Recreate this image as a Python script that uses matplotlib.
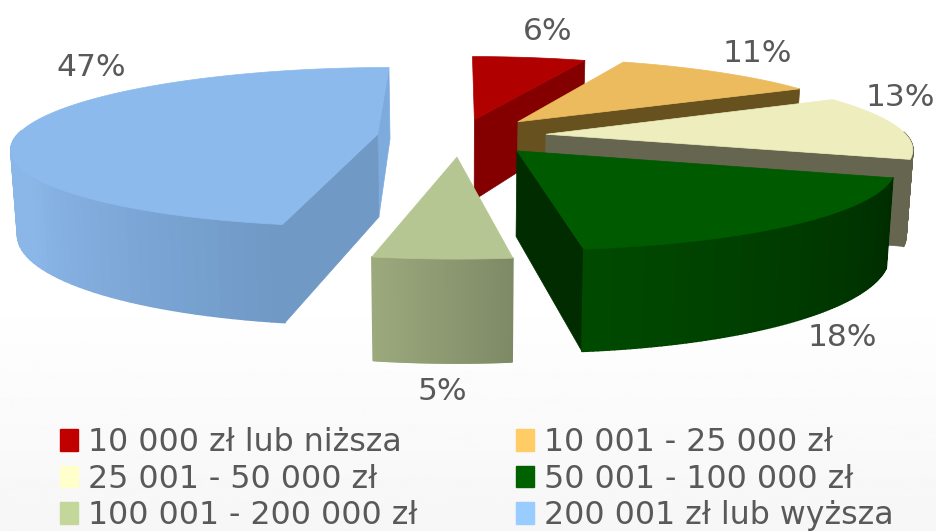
import numpy as np
import matplotlib
matplotlib.use('Agg')
import matplotlib.pyplot as plt
from matplotlib.collections import PolyCollection
from matplotlib.patches import Patch, Polygon

labels = ['10 000 zł lub niższa', '10 001 - 25 000 zł', '25 001 - 50 000 zł',
          '50 001 - 100 000 zł', '100 001 - 200 000 zł', '200 001 zł lub wyższa']
values = [6, 11, 13, 18, 5, 47]

# pull-out of each slice, in pie radii
explode = [0.22, 0.25, 0.24, 0.24, 0.26, 0.23]
legend_colors = ['#C00000', '#FFCC66', '#FFFFCC', '#006100', '#C4D79B', '#99CCFF']
top_colors = ['#B00000', '#EBBB5E', '#EDEDBD', '#005A00', '#B5C692', '#8CBAEC']
start_face = ['#840000', '#67511F', '#66654F', '#002C00', '#7E8A66', '#7199C5']
end_face = ['#840000', '#67511F', '#66654F', '#002C00', '#7E8A66', '#7EABDD']
side_from = ['#840000', '#67511F', '#66654F', '#002C00', '#7E8A66', '#7099C6']
side_to = ['#840000', '#67511F', '#66654F', '#004A00', '#9CA97D', '#8AB6E8']
label_pos = [(548, 31), (757, 53), (900, 97), (842, 338), (442, 392), (91, 67)]
draw_order = [0, 1, 2, 5, 3, 4]
legend_order = [0, 2, 4, 1, 3, 5]

# camera, everything in pixels
cx, cy = 460, 136
ax_a, ax_b = 361, 78
persp = 0.16
depth = 83
shrink = 0.985


def project(u, v):
    w = 1 + persp * v
    return cx + ax_a * u / w, cy - ax_b * v / w


def project_low(u, v):
    x, y = project(u, v)
    return cx + (x - cx) * shrink, y + depth / (1 + persp * v)


def mix(c1, c2, t):
    a = np.array(matplotlib.colors.to_rgb(c1))
    b = np.array(matplotlib.colors.to_rgb(c2))
    return a + (b - a) * t


fig = plt.figure(figsize=(9.37, 5.31), dpi=100)
ax = fig.add_axes([0, 0, 1, 1])
ax.set_xlim(0, 937)
ax.set_ylim(531, 0)
ax.axis('off')

bg = np.interp(np.linspace(0, 1, 256), [0, 0.55, 1], [1, 1, 0.965])
ax.imshow(bg[:, None], cmap='gray', vmin=0, vmax=1, extent=[0, 937, 531, 0], aspect='auto', zorder=0)

edges = np.cumsum([0] + values) / sum(values) * 2 * np.pi
z = 1
for i in draw_order:
    t0, t1 = edges[i], edges[i + 1]
    mid = (t0 + t1) / 2
    ou, ov = explode[i] * np.sin(mid), explode[i] * np.cos(mid)
    th = np.linspace(t0, t1, 90)
    u, v = ou + np.sin(th), ov + np.cos(th)

    # cut faces, only the ones turned to the viewer
    for t, col, show in [(t1, end_face[i], np.sin(t1) > -1e-9), (t0, start_face[i], np.sin(t0) < 0)]:
        if show:
            eu, ev = ou + np.sin(t), ov + np.cos(t)
            pts = [project(ou, ov), project(eu, ev), project_low(eu, ev), project_low(ou, ov)]
            ax.add_patch(Polygon(pts, closed=True, fc=col, ec=col, lw=0.5, zorder=z))
            z += 1

    # outer wall, split up for the shading
    quads, cols = [], []
    for k in range(len(th) - 1):
        if np.cos(th[k]) > 0.02 and np.cos(th[k + 1]) > 0.02:
            continue
        quads.append([project(u[k], v[k]), project(u[k + 1], v[k + 1]),
                      project_low(u[k + 1], v[k + 1]), project_low(u[k], v[k])])
        cols.append(mix(side_from[i], side_to[i], k / (len(th) - 2)))
    if i == 5:
        # the blue wall only runs up to the left edge, stretch the shade over that part
        cols = [mix(side_from[i], side_to[i], min(1, k / (0.6 * len(quads)))) for k in range(len(quads))]
    if quads:
        ax.add_collection(PolyCollection(quads, facecolors=cols, edgecolors=cols, linewidths=1.2, zorder=z))
        z += 1

    top = [project(ou, ov)] + [project(a, b) for a, b in zip(u, v)]
    ax.add_patch(Polygon(top, closed=True, fc=top_colors[i], ec=top_colors[i], lw=0.5, zorder=z))
    z += 1

for val, pos in zip(values, label_pos):
    ax.text(pos[0], pos[1], '%d%%' % val, fontsize=22.5, color='#595959', ha='center', va='center', zorder=z)

handles = [Patch(fc=legend_colors[j], ec=legend_colors[j]) for j in legend_order]
ax.legend(handles, [labels[j] for j in legend_order], ncols=2, frameon=False, fontsize=22.8, labelcolor='#595959',
          loc='lower left', bbox_to_anchor=(0.064, 0.0), handlelength=0.57, handleheight=0.68,
          handletextpad=0.32, columnspacing=3.1, labelspacing=0.17, borderpad=0, borderaxespad=0)

fig.savefig('out.png', dpi=100)
